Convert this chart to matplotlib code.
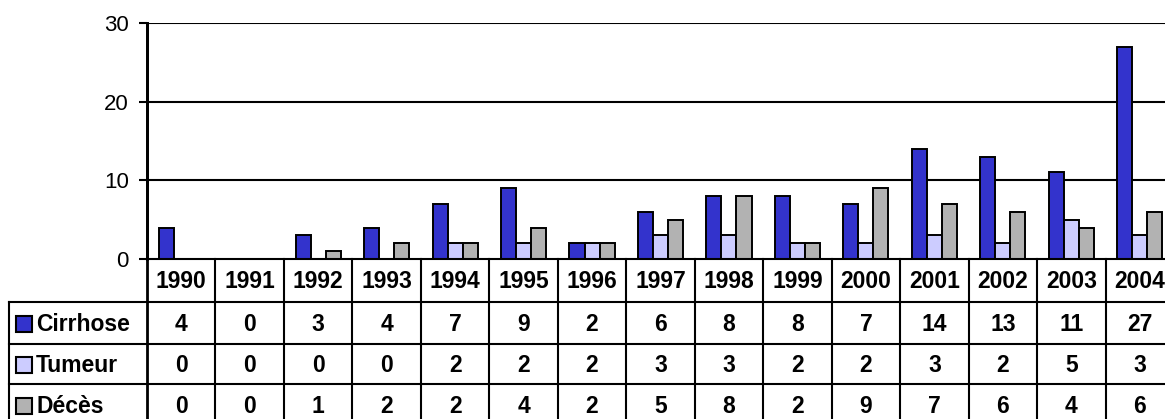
import matplotlib
matplotlib.use("Agg")
import matplotlib.pyplot as plt
from matplotlib.patches import Rectangle

plt.rcParams['font.family'] = ['Liberation Sans', 'DejaVu Sans']

years = ["1990", "1991", "1992", "1993", "1994", "1995", "1996", "1997",
         "1998", "1999", "2000", "2001", "2002", "2003", "2004"]
series_names = ["Cirrhose", "Tumeur", "Décès"]
cirrhose = [4, 0, 3, 4, 7, 9, 2, 6, 8, 8, 7, 14, 13, 11, 27]
tumeur = [0, 0, 0, 0, 2, 2, 2, 3, 3, 2, 2, 3, 2, 5, 3]
deces = [0, 0, 1, 2, 2, 4, 2, 5, 8, 2, 9, 7, 6, 4, 6]
series = [cirrhose, tumeur, deces]
colors = ["#3333CC", "#CCCCFF", "#B2B2B2"]
y_ticks = [0, 10, 20, 30]

W, H = 1165, 419
fig = plt.figure(figsize=(W / 100, H / 100), dpi=100)

# pixel layout of the plot area and table
left, right = 147, 1174
top, base = 23, 259
n = len(years)
colw = (right - left) / n

ax = fig.add_axes([left / W, 1 - base / H, (right - left) / W, (base - top) / H])
bw = 0.22
offsets = [-bw, 0, bw]
for vals, col, off in zip(series, colors, offsets):
    ax.bar([i + off for i in range(n)], vals, width=bw, color=col,
           edgecolor="black", linewidth=1.4, zorder=3)
ax.set_xlim(-0.5, n - 0.5)
ax.set_ylim(0, 30)
ax.set_yticks(y_ticks)
ax.set_yticklabels([str(t) for t in y_ticks], fontsize=16)
ax.set_xticks([])
for t in y_ticks[1:]:
    ax.axhline(t, color="black", linewidth=1.5, zorder=1)
for s in ["top", "right", "bottom"]:
    ax.spines[s].set_visible(False)
ax.spines["left"].set_linewidth(2.0)
ax.tick_params(axis="y", direction="out", length=6, width=1.5, pad=7)

# data table beneath the plot, drawn in pixel coordinates
tab = fig.add_axes([0, 0, 1, 1], zorder=5)
tab.set_xlim(0, W)
tab.set_ylim(H, 0)
tab.axis("off")
tab.patch.set_alpha(0)

lab_left = 9
rows = [259, 302, 344, 384, 426]
lw = 1.5
# horizontal lines
tab.plot([left, right], [rows[0], rows[0]], color="black", lw=lw)
for y in rows[1:]:
    tab.plot([lab_left, right], [y, y], color="black", lw=lw)
# vertical lines
tab.plot([left, left], [top, rows[-1]], color="black", lw=2.0)
tab.plot([lab_left, lab_left], [rows[1], rows[-1]], color="black", lw=lw)
for i in range(1, n + 1):
    x = left + i * colw
    tab.plot([x, x], [rows[0], rows[-1]], color="black", lw=lw)

fs = 16.5
for i, yr in enumerate(years):
    tab.text(left + (i + 0.5) * colw, (rows[0] + rows[1]) / 2 + 1, yr,
             ha="center", va="center", fontsize=fs, fontweight="bold")

for r, (name, vals, col) in enumerate(zip(series_names, series, colors)):
    yc = (rows[r + 1] + rows[r + 2]) / 2 + 1
    tab.add_patch(Rectangle((16, yc - 8), 16, 16, facecolor=col,
                            edgecolor="black", linewidth=1.5))
    tab.text(36, yc, name, ha="left", va="center", fontsize=fs,
             fontweight="bold")
    for i, v in enumerate(vals):
        tab.text(left + (i + 0.5) * colw, yc, str(v), ha="center",
                 va="center", fontsize=fs, fontweight="bold")

fig.savefig("out.png", dpi=100)
